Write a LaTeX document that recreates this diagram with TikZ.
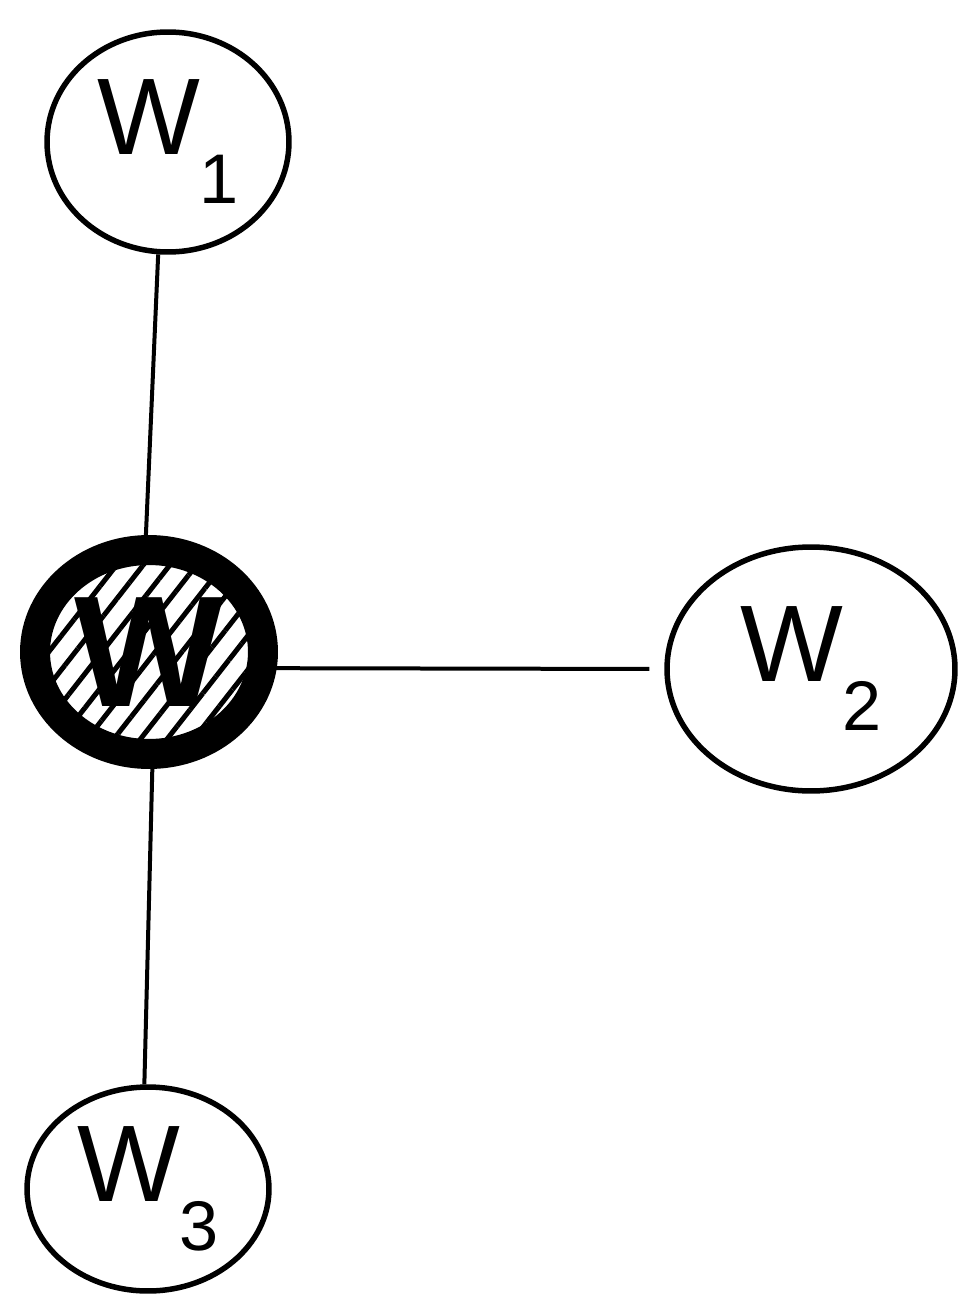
\documentclass[tikz,border=0pt]{standalone}
\usepackage{fontspec}
\setmainfont{Liberation Sans}
\usetikzlibrary{shapes.geometric,patterns.meta}
\newcommand{\subnum}[1]{\raisebox{-0.45em}{\fontsize{40}{40}\selectfont #1}}
\tikzset{
  leaf/.style={ellipse, draw=black, line width=0.11cm, fill=white, inner sep=0pt,
    font=\fontsize{62}{62}\selectfont},
  hub/.style={ellipse, draw=black, line width=0.6cm, inner sep=0pt,
    minimum width=4.56cm, minimum height=4.08cm,
    pattern={Lines[angle=52,distance=0.42cm,line width=0.1cm]},
    font=\fontsize{90}{90}\selectfont\bfseries},
  edge/.style={line width=0.08cm, black}
}
\begin{document}
\begin{tikzpicture}[x=0.02cm,y=-0.02cm]
\useasboundingbox (0,0) rectangle (957,1294);
\fill[white] (0,0) rectangle (957,1294);
\node[leaf, minimum width=4.84cm, minimum height=4.4cm] (w1) at (168,142) {W\subnum{1}};
\node[leaf, minimum width=5.76cm, minimum height=4.88cm] (w2) at (811,669) {W\subnum{2}};
\node[leaf, minimum width=4.84cm, minimum height=4.08cm] (w3) at (148,1189) {W\subnum{3}};
\node[hub] (w) at (149,652) {W};
\draw[edge] (w1.265) -- (w.92);
\draw[edge, shorten >=0.3cm] (w.-8) -- (w2.west);
\draw[edge] (w.-88) -- (w3.92);
\end{tikzpicture}
\end{document}
